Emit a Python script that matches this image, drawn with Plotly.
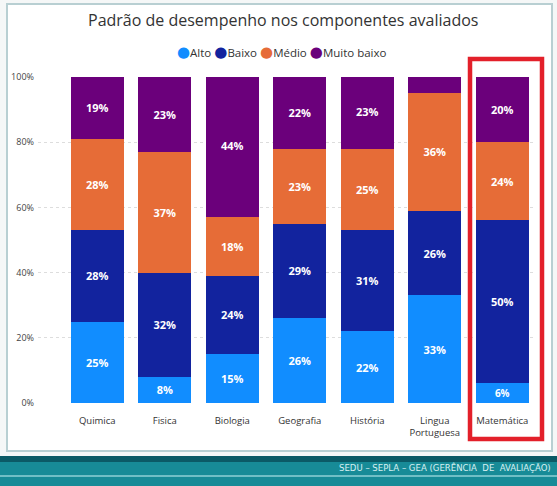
import plotly.graph_objects as go

categories = ["Quimica", "Fisica", "Biologia", "Geografia", "História", "Lingua<br>Portuguesa", "Matemática"]
alto = [25, 8, 15, 26, 22, 33, 6]
baixo = [28, 32, 24, 29, 31, 26, 50]
medio = [28, 37, 18, 23, 25, 36, 24]
muito_baixo = [19, 23, 44, 22, 23, 5, 20]
series_names = ["Alto", "Baixo", "Médio", "Muito baixo"]
y_ticks = [0, 20, 40, 60, 80, 100]
y_tick_labels = ["0%", "20%", "40%", "60%", "80%", "100%"]

colors = ["#118DFF", "#12239E", "#E66C37", "#6B007B"]
W, H = 557, 486
FONT = "Open Sans"

def px(x):
    return x / W

def py(y):
    return 1 - y / H

fig = go.Figure()
for name, vals, col in zip(series_names, [alto, baixo, medio, muito_baixo], colors):
    fig.add_trace(go.Bar(
        x=categories, y=vals, name=name, marker_color=col, marker_line_width=0,
        text=[f"{v}%" if v >= 6 else "" for v in vals],
        textposition="inside", insidetextanchor="middle", textangle=0,
        textfont=dict(color="white", size=11, family=FONT, weight="bold"),
        showlegend=False, width=0.78,
    ))

legend_text = "&nbsp;".join(
    f"<span style='color:{c}; font-size:15px; font-family:DejaVu Sans'>●</span>{n}"
    for n, c in zip(series_names, colors)
)

shapes = [
    # panel
    dict(type="rect", xref="paper", yref="paper", x0=px(7), x1=px(552), y0=py(451), y1=py(4),
         fillcolor="white", line=dict(color="#b8cfd2", width=2), layer="below"),
    # banner
    dict(type="rect", xref="paper", yref="paper", x0=0, x1=1, y0=py(486), y1=py(456),
         fillcolor="#178b97", line_width=0, layer="below"),
    dict(type="rect", xref="paper", yref="paper", x0=0, x1=1, y0=py(462), y1=py(456),
         fillcolor="#0b5a66", line_width=0, layer="below"),
    dict(type="line", xref="paper", yref="paper", x0=0, x1=1, y0=py(476), y1=py(476),
         line=dict(color="#8fd0d6", width=1.5), layer="below"),
    # red highlight
    dict(type="rect", xref="paper", yref="paper", x0=px(470), x1=px(542), y0=py(439), y1=py(59),
         fillcolor="rgba(0,0,0,0)", line=dict(color="#e3202a", width=4.5), layer="above"),
]

annotations = [
    dict(text="Padrão de desempenho nos componentes avaliados", xref="paper", yref="paper",
         x=px(283), y=py(20), xanchor="center", yanchor="middle", showarrow=False,
         font=dict(size=16, color="#333333", family=FONT)),
    dict(text=legend_text, xref="paper", yref="paper",
         x=px(282), y=py(52), xanchor="center", yanchor="middle", showarrow=False,
         font=dict(size=11.5, color="#333333", family=FONT)),
    dict(text="SEDU – SEPLA – GEA (GERÊNCIA  DE  AVALIAÇÃO)", xref="paper", yref="paper",
         x=px(553), y=py(467), xanchor="right", yanchor="middle", showarrow=False,
         font=dict(size=9.5, color="#d8f0f2", family="DejaVu Sans Condensed")),
]

fig.update_layout(
    width=W, height=H, barmode="stack", bargap=0.22,
    margin=dict(l=0, r=0, t=0, b=0),
    paper_bgcolor="#f5f7f7", plot_bgcolor="rgba(0,0,0,0)",
    font=dict(family=FONT, color="#444444"),
    shapes=shapes, annotations=annotations, showlegend=False,
    xaxis=dict(domain=[px(38), px(536)], range=[-0.878, 6.5], automargin=False,
               showgrid=False, zeroline=False, showline=False, ticks="",
               ticklabelstandoff=10,
               tickfont=dict(size=9.5, color="#333333"), fixedrange=True),
    yaxis=dict(domain=[py(403), py(77)], range=[0, 100], automargin=False,
               tickvals=y_ticks, ticktext=y_tick_labels, showgrid=True,
               gridcolor="#dddddd", griddash="dot", gridwidth=1, zeroline=False,
               showline=False, ticks="", ticklabelstandoff=3,
               tickfont=dict(size=9, color="#444444")),
)

fig.write_html("out.html")
